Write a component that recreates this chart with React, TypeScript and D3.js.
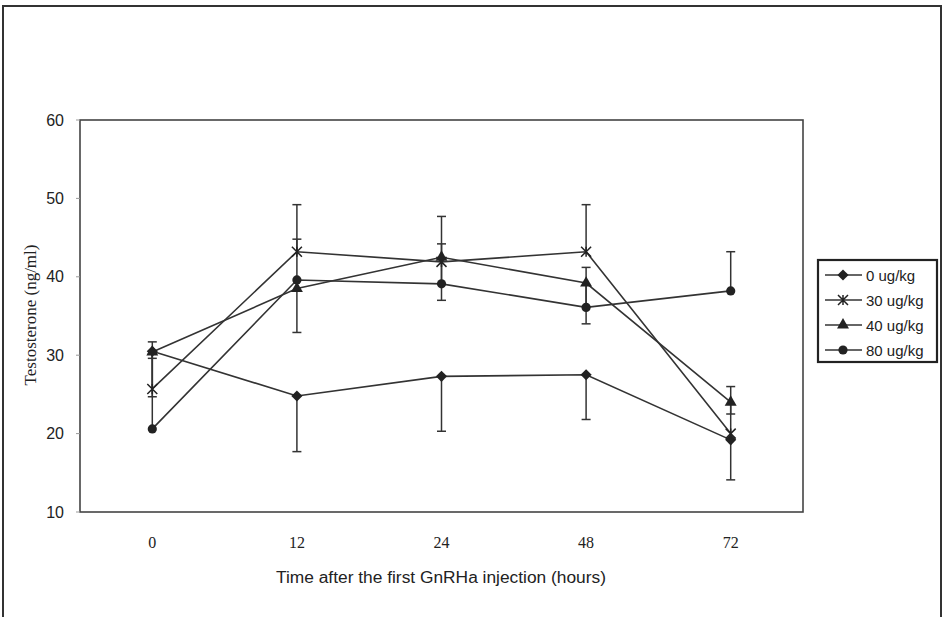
import React from "react";
import * as d3 from "d3";

const categories = ["0", "12", "24", "48", "72"];
const seriesNames = ["0 ug/kg", "30 ug/kg", "40 ug/kg", "80 ug/kg"];
const seriesMarkers = ["diamond", "asterisk", "triangle", "circle"];
const dose0 = [30.5, 24.8, 27.3, 27.5, 19.2];
const dose30 = [25.7, 43.2, 41.9, 43.2, 20.0];
const dose40 = [30.4, 38.5, 42.5, 39.2, 24.0];
const dose80 = [20.6, 39.6, 39.1, 36.1, 38.2];
// one-sided error bars (plus or minus)
const err0Down = [5.8, 7.1, 7.0, 5.7, 5.1];
const err30Up = [4.5, 6.0, 5.8, 6.0, 6.0];
const err40Down = [0.8, 5.6, 5.5, 5.2, 1.5];
const err80Up = [11.1, 5.2, 5.1, 5.1, 5.0];
const yTicks = [10, 20, 30, 40, 50, 60];

const seriesValues = [dose0, dose30, dose40, dose80];
const seriesErrUp = [null, err30Up, null, err80Up];
const seriesErrDown = [err0Down, null, err40Down, null];

const W = 945;
const H = 617;
const plot = { left: 80, right: 803, top: 120, bottom: 512 };
const lineColor = "#333";
const markColor = "#222";

function Marker({ type, x, y }: { type: string; x: number; y: number }) {
  if (type === "diamond") {
    const p = d3.symbol().type(d3.symbolSquare).size(62)();
    return <path d={p || ""} transform={`translate(${x},${y}) rotate(45)`} fill={markColor} />;
  }
  if (type === "triangle") {
    const p = d3.symbol().type(d3.symbolTriangle).size(62)();
    return <path d={p || ""} transform={`translate(${x},${y})`} fill={markColor} />;
  }
  if (type === "circle") {
    return <circle cx={x} cy={y} r={4.6} fill={markColor} />;
  }
  const s = 5;
  return (
    <path
      d={`M${x - s},${y - s}L${x + s},${y + s}M${x - s},${y + s}L${x + s},${y - s}M${x},${y - s}L${x},${y + s}`}
      stroke={markColor}
      strokeWidth={1.5}
      fill="none"
    />
  );
}

export default function App() {
  const x = d3
    .scalePoint<string>()
    .domain(categories)
    .range([plot.left, plot.right])
    .padding(0.5);
  const y = d3.scaleLinear().domain([10, 60]).range([plot.bottom, plot.top]);
  const line = d3
    .line<number>()
    .x((_, i) => x(categories[i]) as number)
    .y((d) => y(d));
  const capW = 4.5;

  return (
    <div style={{ position: "absolute", left: 0, top: 0 }}>
      <svg width={W} height={H} style={{ display: "block", background: "#fff" }}>
        {/* outer frame */}
        <rect x={3} y={6} width={938} height={640} fill="none" stroke="#333" strokeWidth={2} />

        {/* plot frame */}
        <rect
          x={plot.left}
          y={plot.top}
          width={plot.right - plot.left}
          height={plot.bottom - plot.top}
          fill="none"
          stroke="#444"
          strokeWidth={1.6}
        />

        {/* y ticks */}
        {yTicks.map((t) => (
          <g key={t}>
            <line x1={plot.left - 4} x2={plot.left} y1={y(t)} y2={y(t)} stroke="#999" strokeWidth={1} />
            <text
              x={64}
              y={y(t)}
              textAnchor="end"
              dominantBaseline="central"
              fontFamily="Liberation Sans, Arial, sans-serif"
              fontSize={16}
              fill="#222"
            >
              {t}
            </text>
          </g>
        ))}

        {/* x tick labels */}
        {categories.map((c) => (
          <text
            key={c}
            x={x(c)}
            y={548}
            textAnchor="middle"
            fontFamily="Liberation Serif, Times New Roman, serif"
            fontSize={16}
            fill="#222"
          >
            {c}
          </text>
        ))}

        {/* axis titles */}
        <text
          x={441}
          y={583}
          textAnchor="middle"
          fontFamily="Liberation Sans, Arial, sans-serif"
          fontSize={16}
          textLength={330}
          lengthAdjust="spacingAndGlyphs"
          fill="#222"
        >
          Time after the first GnRHa injection (hours)
        </text>
        <text
          transform={`translate(36,315) rotate(-90)`}
          textAnchor="middle"
          fontFamily="Liberation Serif, Times New Roman, serif"
          fontSize={17}
          fill="#222"
        >
          Testosterone (ng/ml)
        </text>

        {/* error bars */}
        {seriesValues.map((vals, si) => (
          <g key={`err-${si}`} stroke={lineColor} strokeWidth={1.5}>
            {vals.map((v, i) => {
              const cx = x(categories[i]) as number;
              const up = seriesErrUp[si];
              const dn = seriesErrDown[si];
              const end = up ? v + up[i] : dn ? v - dn[i] : v;
              return (
                <g key={i}>
                  <line x1={cx} x2={cx} y1={y(v)} y2={y(end)} />
                  <line x1={cx - capW} x2={cx + capW} y1={y(end)} y2={y(end)} />
                </g>
              );
            })}
          </g>
        ))}

        {/* lines */}
        {seriesValues.map((vals, si) => (
          <path key={`line-${si}`} d={line(vals) || ""} fill="none" stroke={lineColor} strokeWidth={1.6} />
        ))}

        {/* markers */}
        {seriesValues.map((vals, si) => (
          <g key={`m-${si}`}>
            {vals.map((v, i) => (
              <Marker key={i} type={seriesMarkers[si]} x={x(categories[i]) as number} y={y(v)} />
            ))}
          </g>
        ))}

        {/* legend */}
        <rect x={818} y={260} width={119} height={102} fill="#fff" stroke="#222" strokeWidth={2.2} />
        {seriesNames.map((name, i) => {
          const ly = 275 + i * 25;
          return (
            <g key={name}>
              <line x1={825} x2={862} y1={ly} y2={ly} stroke={lineColor} strokeWidth={1.5} />
              <Marker type={seriesMarkers[i]} x={843} y={ly} />
              <text
                x={866}
                y={ly}
                dominantBaseline="central"
                fontFamily="Liberation Sans, Arial, sans-serif"
                fontSize={15}
                fill="#222"
              >
                {name}
              </text>
            </g>
          );
        })}
      </svg>
    </div>
  );
}
